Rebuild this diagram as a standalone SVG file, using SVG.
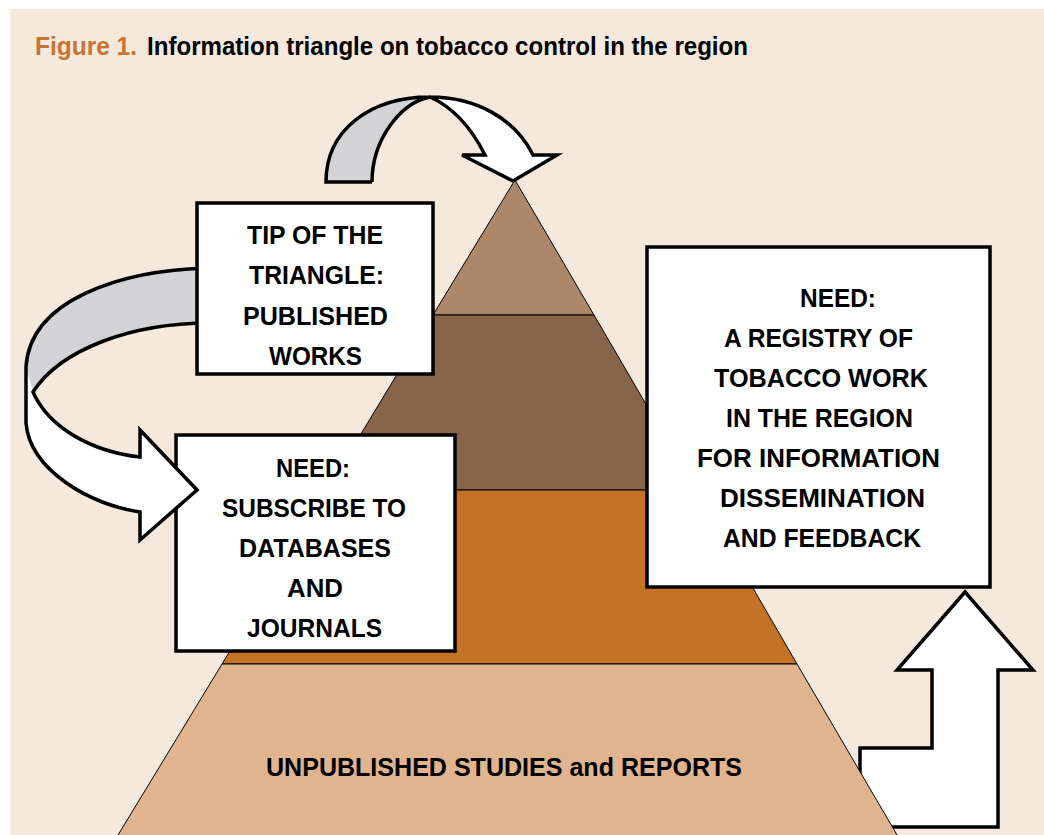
<svg xmlns="http://www.w3.org/2000/svg" width="1044" height="835" viewBox="0 0 1044 835">
<style>
.bg{fill:#F5E9DE}
.box{fill:#fff;stroke:#000;stroke-width:3.5}
.lbl{font-family:"Liberation Sans",Arial,sans-serif;font-weight:bold;font-size:25px;fill:#000;text-anchor:middle}
.band{stroke:#000;stroke-width:1}
.arr{stroke:#000;stroke-width:3.5;stroke-linejoin:miter}
.title{font-family:"Liberation Sans",Arial,sans-serif;font-weight:bold;font-size:25px}
</style>
<rect x="0" y="0" width="1044" height="835" fill="#fff"/>
<rect class="bg" x="10" y="9" width="1034" height="826"/>
<text class="title" x="35" y="55" fill="#C87533" textLength="102" lengthAdjust="spacingAndGlyphs">Figure 1.</text>
<text class="title" x="147" y="55" fill="#000" textLength="601" lengthAdjust="spacingAndGlyphs">Information triangle on tobacco control in the region</text>

<g id="connectors">
<path id="arrow-up" class="arr" fill="#fff" d="M860,748 L932,748 L932,670 L897,670 L965,592 L1033,670 L998,670 L998,827 L860,827 Z"/>
</g>

<g id="triangle">
<polygon class="band" fill="#AD8769" points="515,180 594,315 433,315"/>
<polygon class="band" fill="#86654A" points="433,315 594,315 696,490 327,490"/>
<polygon class="band" fill="#C47225" points="327,490 696,490 797,664 222,664"/>
<polygon class="band" fill="#E0B48E" points="222,664 797,664 900,840 115,840"/>
<text class="lbl" x="504" y="776" textLength="476" lengthAdjust="spacingAndGlyphs">UNPUBLISHED STUDIES and REPORTS</text>
</g>

<g id="box-subscribe">
<rect class="box" x="176" y="435" width="279" height="216"/>
<text class="lbl" x="313" y="477" textLength="74" lengthAdjust="spacingAndGlyphs">NEED:</text>
<text class="lbl" x="314" y="517" textLength="184" lengthAdjust="spacingAndGlyphs">SUBSCRIBE TO</text>
<text class="lbl" x="315" y="557" textLength="152" lengthAdjust="spacingAndGlyphs">DATABASES</text>
<text class="lbl" x="315" y="597" textLength="56" lengthAdjust="spacingAndGlyphs">AND</text>
<text class="lbl" x="314.5" y="637" textLength="135" lengthAdjust="spacingAndGlyphs">JOURNALS</text>
</g>

<g id="connectors-curved">
<g id="arrow-top">
<path fill="#D3D3D6" d="M326,182 C326,130 370,97 430,97 C400,103 372,140 372,182 Z"/>
<path fill="#fff" d="M430,97 C475,97 515,118 533,155 L557,155 L513,181 L462,155 L485,155 C475,130 455,106 430,97 Z"/>
<path class="arr" fill="none" d="M372,182 L326,182 C326,130 370,97 430,97 C475,97 515,118 533,155 L557,155 L513,181 L462,155 L485,155 C470,125 450,106 430,97 C400,103 372,140 372,182"/>
</g>
<g id="arrow-left">
<path fill="#D3D3D6" d="M210,268 C120,270 30,300 26,367 L26,378 L33,392 C60,350 130,323 210,323 Z"/>
<path fill="#fff" d="M26,367 L26,423 C30,470 90,505 140,512 L140,540 L197,490 L140,430 L140,457 C95,452 50,430 33,392 Z"/>
<path class="arr" fill="none" d="M210,268 C120,270 30,300 26,367 L26,423 C30,470 90,505 140,512 L140,540 L197,490 L140,430 L140,457 C95,452 50,430 33,392 C60,350 130,323 210,323"/>
</g>
</g>

<g id="box-tip">
<rect class="box" x="197" y="203" width="236" height="171"/>
<text class="lbl" x="315" y="244" textLength="136" lengthAdjust="spacingAndGlyphs">TIP OF THE</text>
<text class="lbl" x="316.5" y="284" textLength="135" lengthAdjust="spacingAndGlyphs">TRIANGLE:</text>
<text class="lbl" x="315.5" y="325" textLength="145" lengthAdjust="spacingAndGlyphs">PUBLISHED</text>
<text class="lbl" x="315.5" y="365" textLength="93" lengthAdjust="spacingAndGlyphs">WORKS</text>
</g>

<g id="box-registry">
<rect class="box" x="647" y="247" width="343" height="340"/>
<text class="lbl" x="838" y="307" textLength="76" lengthAdjust="spacingAndGlyphs">NEED:</text>
<text class="lbl" x="818.5" y="347" textLength="189" lengthAdjust="spacingAndGlyphs">A REGISTRY OF</text>
<text class="lbl" x="821" y="387" textLength="214" lengthAdjust="spacingAndGlyphs">TOBACCO WORK</text>
<text class="lbl" x="819.5" y="427" textLength="187" lengthAdjust="spacingAndGlyphs">IN THE REGION</text>
<text class="lbl" x="818.5" y="467" textLength="243" lengthAdjust="spacingAndGlyphs">FOR INFORMATION</text>
<text class="lbl" x="822.5" y="507" textLength="205" lengthAdjust="spacingAndGlyphs">DISSEMINATION</text>
<text class="lbl" x="822" y="547" textLength="198" lengthAdjust="spacingAndGlyphs">AND FEEDBACK</text>
</g>
</svg>
